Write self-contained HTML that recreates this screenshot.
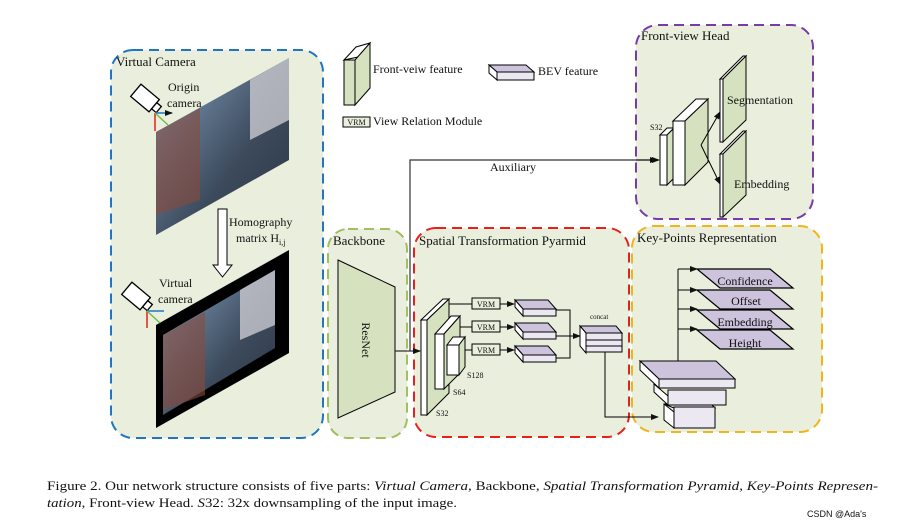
<!DOCTYPE html>
<html><head><meta charset="utf-8"><style>
html,body{margin:0;padding:0;background:#fff}
svg{display:block}
text{font-family:"Liberation Serif",serif;fill:#111}
</style></head><body>
<svg width="913" height="528" viewBox="0 0 913 528" xmlns="http://www.w3.org/2000/svg">
<defs>
<marker id="ar" markerWidth="8" markerHeight="6" refX="7" refY="3" orient="auto" markerUnits="userSpaceOnUse"><path d="M0,0 L8,3 L0,6z" fill="#111"/></marker>
<linearGradient id="img" x1="0" y1="0" x2="1" y2="1">
<stop offset="0" stop-color="#7ab8e8"/><stop offset="0.35" stop-color="#5a6f86"/><stop offset="0.6" stop-color="#3c4a5c"/><stop offset="1" stop-color="#2a3644"/></linearGradient>
</defs>
<rect x="111" y="50" width="212" height="388" rx="22" fill="#e9efdc" stroke="#1f77c4" stroke-width="2" stroke-dasharray="10,6"/>
<rect x="328" y="229" width="79" height="209" rx="20" fill="#e9efdc" stroke="#9fbf60" stroke-width="2" stroke-dasharray="10,6"/>
<rect x="414" y="228" width="215" height="209" rx="22" fill="#e9efdc" stroke="#e8201c" stroke-width="2" stroke-dasharray="10,6"/>
<rect x="632" y="226" width="190" height="206" rx="22" fill="#e9efdc" stroke="#f2b418" stroke-width="2" stroke-dasharray="10,6"/>
<rect x="636" y="25" width="177" height="194" rx="22" fill="#e9efdc" stroke="#7a3aa8" stroke-width="2" stroke-dasharray="10,6"/>

<text x="116" y="66" font-size="13">Virtual Camera</text>
<text x="333" y="245" font-size="13">Backbone</text>
<text x="419" y="245" font-size="13">Spatial Transformation Pyarmid</text>
<text x="637" y="242" font-size="13">Key-Points Representation</text>
<text x="641" y="40" font-size="13">Front-view Head</text>

<polygon points="156,132 289,58 289,160 156,235" fill="url(#img)"/>
<polygon points="156,132 200,108 200,200 156,215" fill="#8a4a3a" opacity="0.6"/>
<polygon points="250,80 289,58 289,120 250,140" fill="#c9c9cf" opacity="0.8"/>
<polygon points="156,325 289,250 289,353 156,428" fill="#000"/>
<polygon points="163,335 275,270 275,348 163,415" fill="url(#img)"/>
<polygon points="163,335 205,312 205,395 163,410" fill="#8a4a3a" opacity="0.6"/>
<polygon points="240,290 275,270 275,325 240,340" fill="#c9c9cf" opacity="0.8"/>

<g transform="translate(145,98) rotate(40)"><rect x="-12" y="-8" width="24" height="16" fill="#fff" stroke="#000" stroke-width="1.3"/><rect x="12" y="-4" width="6" height="8" fill="#fff" stroke="#000" stroke-width="1.3"/></g>
<line x1="155" y1="113" x2="172" y2="113" stroke="#1f77c4" stroke-width="1.5" marker-end="url(#ar)"/>
<line x1="155" y1="113" x2="155" y2="131" stroke="#e8201c" stroke-width="1.5"/>
<line x1="155" y1="113" x2="168" y2="125" stroke="#6cc04a" stroke-width="1.5"/>
<g transform="translate(136,296) rotate(40)"><rect x="-12" y="-8" width="24" height="16" fill="#fff" stroke="#000" stroke-width="1.3"/><rect x="12" y="-4" width="6" height="8" fill="#fff" stroke="#000" stroke-width="1.3"/></g>
<line x1="147" y1="311" x2="164" y2="311" stroke="#1f77c4" stroke-width="1.5"/>
<line x1="147" y1="311" x2="147" y2="328" stroke="#e8201c" stroke-width="1.5"/>
<line x1="147" y1="311" x2="160" y2="323" stroke="#6cc04a" stroke-width="1.5"/>
<text x="168" y="91" font-size="12">Origin</text>
<text x="167" y="107" font-size="12">camera</text>
<text x="159" y="287" font-size="12">Virtual</text>
<text x="158" y="303" font-size="12">camera</text>

<polygon points="218,209 227,209 227,265 232,265 222.5,277 213,265 218,265" fill="#fff" stroke="#000"/>
<text x="229" y="226" font-size="12">Homography</text>
<text x="236" y="242" font-size="12">matrix H<tspan font-size="8" dy="3">i,j</tspan></text>

<polygon points="344,60 356,47 370,43 358,57" fill="#fff" stroke="#000"/>
<rect x="344" y="60" width="11" height="45" fill="#d6e2bf" stroke="#000"/>
<polygon points="355,60 370,43 370,88 355,105" fill="#d6e2bf" stroke="#000"/>
<text x="373" y="73" font-size="12">Front-veiw feature</text>
<polygon points="489,65 526,65 534,72 497,72" fill="#cdc3dc" stroke="#000"/>
<polygon points="489,65 497,72 497,80 489,73" fill="#fff" stroke="#000"/>
<rect x="497" y="72" width="37" height="8" fill="#ece8f2" stroke="#000"/>
<text x="538" y="75" font-size="12">BEV feature</text>
<rect x="343" y="117" width="27" height="10" fill="#e9efdc" stroke="#000"/>
<text x="356.5" y="125" font-size="8" text-anchor="middle">VRM</text>
<text x="373" y="125" font-size="12">View Relation Module</text>

<polygon points="338,260 395,287 395,392 338,418" fill="#d6e2bf" stroke="#000"/>
<text transform="translate(362,340) rotate(90)" font-size="12" text-anchor="middle">ResNet</text>
<line x1="395" y1="351" x2="420" y2="351" stroke="#333" stroke-width="1.2" marker-end="url(#ar)"/>
<polyline points="410,351 410,160 657,160" fill="none" stroke="#333" stroke-width="1.2" marker-end="url(#ar)"/>
<text x="490" y="171" font-size="12">Auxiliary</text>

<polygon points="421,320 443,299 449,299 427,320" fill="#fff" stroke="#000"/>
<rect x="421" y="320" width="6" height="95" fill="#fff" stroke="#000"/>
<polygon points="427,320 449,299 449,393 427,415" fill="#d6e2bf" stroke="#000"/>
<polygon points="435,334 444,334 460,316 451,316" fill="#fff" stroke="#000"/>
<rect x="435" y="334" width="9" height="55" fill="#fff" stroke="#000"/>
<polygon points="444,334 460,316 460,373 444,389" fill="#d6e2bf" stroke="#000"/>
<polygon points="447,345 459,345 465,337 453,337" fill="#fff" stroke="#000"/>
<rect x="447" y="345" width="12" height="30" fill="#fff" stroke="#000"/>
<polygon points="459,345 465,337 465,367 459,375" fill="#d6e2bf" stroke="#000"/>
<text x="467" y="378" font-size="8">S128</text>
<text x="453" y="395" font-size="8">S64</text>
<text x="436" y="416" font-size="8">S32</text>

<g stroke="#000" fill="none" stroke-width="1">
<line x1="449" y1="304" x2="472" y2="304"/><line x1="460" y1="327" x2="472" y2="327"/><line x1="465" y1="350" x2="472" y2="350"/>
</g>
<rect x="472" y="298" width="28" height="11" fill="#e9efdc" stroke="#000"/><text x="486" y="307" font-size="8" text-anchor="middle">VRM</text>
<rect x="472" y="321" width="28" height="11" fill="#e9efdc" stroke="#000"/><text x="486" y="330" font-size="8" text-anchor="middle">VRM</text>
<rect x="472" y="344" width="28" height="11" fill="#e9efdc" stroke="#000"/><text x="486" y="353" font-size="8" text-anchor="middle">VRM</text>
<g stroke="#000" stroke-width="1">
<line x1="500" y1="304" x2="514" y2="304" marker-end="url(#ar)"/>
<line x1="500" y1="327" x2="514" y2="327" marker-end="url(#ar)"/>
<line x1="500" y1="350" x2="514" y2="350" marker-end="url(#ar)"/>
</g>
<g stroke="#000" fill="#cdc3dc">
<polygon points="515,300 548,300 556,309 523,309"/><polygon points="515,300 523,309 523,316 515,307" fill="#fff"/><rect x="523" y="309" width="33" height="7" fill="#ece8f2"/>
<polygon points="515,323 548,323 556,332 523,332"/><polygon points="515,323 523,332 523,339 515,330" fill="#fff"/><rect x="523" y="332" width="33" height="7" fill="#ece8f2"/>
<polygon points="515,346 548,346 556,355 523,355"/><polygon points="515,346 523,355 523,362 515,353" fill="#fff"/><rect x="523" y="355" width="33" height="7" fill="#ece8f2"/>
</g>
<polyline points="556,310 570,310 570,358 556,358" fill="none" stroke="#000"/>
<line x1="556" y1="336" x2="580" y2="336" stroke="#000" marker-end="url(#ar)"/>
<text x="590" y="319" font-size="7">concat</text>
<polygon points="580,326 616,326 622,333 586,333" fill="#cdc3dc" stroke="#000"/>
<polygon points="580,326 586,333 586,353 580,346" fill="#fff" stroke="#000"/>
<rect x="586" y="333" width="36" height="7" fill="#ece8f2" stroke="#000"/>
<rect x="586" y="340" width="36" height="6" fill="#ece8f2" stroke="#000"/>
<rect x="586" y="346" width="36" height="6" fill="#ece8f2" stroke="#000"/>
<polyline points="605,352 605,417 658,417" fill="none" stroke="#000" marker-end="url(#ar)"/>

<!-- key points stack -->
<polygon points="664,404 711,404 715,408 674,408" fill="#ece8f2" stroke="#000"/>
<polygon points="664,404 674,412 674,428 664,420" fill="#fff" stroke="#000"/>
<rect x="674" y="407" width="41" height="21" fill="#ece8f2" stroke="#000"/>
<polygon points="654,384 668,396 668,405 654,392" fill="#fff" stroke="#000"/>
<rect x="668" y="390" width="58" height="15" fill="#ece8f2" stroke="#000"/>
<polygon points="640,361 716,361 735,379 659,379" fill="#cdc3dc" stroke="#000"/>
<polygon points="640,361 659,379 659,388 640,370" fill="#fff" stroke="#000"/>
<rect x="659" y="379" width="76" height="9" fill="#ece8f2" stroke="#000"/>
<polyline points="678,361 678,269" fill="none" stroke="#000"/>
<g stroke="#000">
<line x1="678" y1="269" x2="697" y2="269" marker-end="url(#ar)"/>
<line x1="678" y1="290" x2="697" y2="290" marker-end="url(#ar)"/>
<line x1="678" y1="309" x2="697" y2="309" marker-end="url(#ar)"/>
<line x1="678" y1="329" x2="697" y2="329" marker-end="url(#ar)"/>
</g>
<g stroke="#000" fill="#cdc3dc" stroke-width="1.2">
<polygon points="697,269 770,269 793,288 720,288"/>
<polygon points="697,290 770,290 793,309 720,309"/>
<polygon points="697,310 770,310 793,329 720,329"/>
<polygon points="697,330 770,330 793,349 720,349"/>
</g>
<text x="745" y="285" font-size="12" text-anchor="middle" fill="#1a2a60">Confidence</text>
<text x="746" y="305" font-size="12" text-anchor="middle" fill="#1a2a60">Offset</text>
<text x="745" y="326" font-size="12" text-anchor="middle" fill="#1a2a60">Embedding</text>
<text x="745" y="347" font-size="12" text-anchor="middle" fill="#1a2a60">Height</text>

<line x1="636" y1="160" x2="659" y2="160" stroke="#000" marker-end="url(#ar)"/>
<text x="650" y="130" font-size="8">S32</text>
<polygon points="660,135 667,135 674,128 667,128" fill="#fff" stroke="#000"/>
<rect x="660" y="135" width="7" height="50" fill="#fff" stroke="#000"/>
<polygon points="667,135 674,128 674,178 667,185" fill="#d6e2bf" stroke="#000"/>
<polygon points="673,121 685,121 708,99 696,99" fill="#fff" stroke="#000"/>
<rect x="673" y="121" width="12" height="64" fill="#fff" stroke="#000"/>
<polygon points="685,121 708,99 708,162 685,185" fill="#d6e2bf" stroke="#000"/>
<line x1="701" y1="145" x2="720" y2="112" stroke="#000" marker-end="url(#ar)"/>
<line x1="701" y1="145" x2="720" y2="184" stroke="#000" marker-end="url(#ar)"/>
<polygon points="720,79 723,79 746,56 743,56" fill="#fff" stroke="#000"/>
<rect x="720" y="79" width="3" height="63" fill="#fff" stroke="#000"/>
<polygon points="723,79 746,56 746,120 723,142" fill="#d6e2bf" stroke="#000"/>
<polygon points="720,154 723,154 746,131 743,131" fill="#fff" stroke="#000"/>
<rect x="720" y="154" width="3" height="63" fill="#fff" stroke="#000"/>
<polygon points="723,154 746,131 746,195 723,217" fill="#d6e2bf" stroke="#000"/>
<text x="727" y="104" font-size="12">Segmentation</text>
<text x="734" y="188" font-size="12">Embedding</text>

<text x="47" y="490" font-size="13" textLength="831" lengthAdjust="spacingAndGlyphs">Figure 2. Our network structure consists of five parts: <tspan font-style="italic">Virtual Camera</tspan>, Backbone, <tspan font-style="italic">Spatial Transformation Pyramid</tspan>, <tspan font-style="italic">Key-Points Represen-</tspan></text>
<text x="47" y="507" font-size="13" textLength="410" lengthAdjust="spacingAndGlyphs"><tspan font-style="italic">tation</tspan>, Front-view Head. <tspan font-style="italic">S</tspan>32: 32x downsampling of the input image.</text>
<text x="807" y="517" font-size="9" style="font-family:'Liberation Sans',sans-serif" fill="#999">CSDN @Ada's</text>
</svg>
</body></html>
